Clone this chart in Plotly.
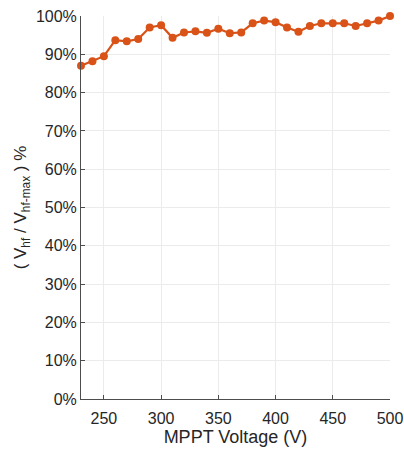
import plotly.graph_objects as go

# MPPT voltage sweep (V) and normalised high-frequency voltage (%)
mppt_voltage = [230, 240, 250, 260, 270, 280, 290, 300, 310, 320, 330, 340, 350, 360,
                370, 380, 390, 400, 410, 420, 430, 440, 450, 460, 470, 480, 490, 500]
vhf_ratio = [87.0, 88.2, 89.5, 93.7, 93.4, 94.0, 97.0, 97.6, 94.3, 95.7, 96.0, 95.6, 96.7, 95.5,
             95.7, 98.1, 98.8, 98.4, 97.0, 95.9, 97.4, 98.1, 98.1, 98.1, 97.4, 98.1, 98.8, 100.0]

x_ticks = [250, 300, 350, 400, 450, 500]
y_ticks = list(range(0, 101, 10))
y_tick_labels = [f"{v}%" for v in y_ticks]

line_color = "#D95319"
axis_color = "#4D4D4D"
grid_color = "#EBEBEB"
text_color = "#262626"
font_family = "Liberation Sans, Arial, sans-serif"

fig = go.Figure(
    go.Scatter(
        x=mppt_voltage,
        y=vhf_ratio,
        mode="lines+markers",
        line=dict(color=line_color, width=2.2),
        marker=dict(color=line_color, size=8, symbol="circle"),
        showlegend=False,
        cliponaxis=False,
    )
)

fig.update_layout(
    width=404,
    height=453,
    autosize=False,
    margin=dict(l=81, r=14, t=16, b=54, pad=0),
    paper_bgcolor="white",
    plot_bgcolor="white",
    font=dict(family=font_family, size=16, color=text_color),
)

fig.update_xaxes(
    range=[230, 500],
    tickvals=x_ticks,
    ticks="inside",
    ticklen=4,
    tickcolor=axis_color,
    showline=True,
    linecolor=axis_color,
    linewidth=1,
    showgrid=True,
    gridcolor=grid_color,
    zeroline=False,
    automargin=False,
    ticklabelstandoff=5,
    tickfont=dict(size=16, color=text_color),
    title=dict(text="MPPT Voltage (V)", font=dict(size=18, color=text_color), standoff=1),
)

fig.update_yaxes(
    range=[0, 100],
    tickvals=y_ticks,
    ticktext=y_tick_labels,
    ticks="inside",
    ticklen=4,
    tickcolor=axis_color,
    showline=True,
    linecolor=axis_color,
    linewidth=1,
    showgrid=True,
    gridcolor=grid_color,
    zeroline=False,
    automargin=False,
    tickfont=dict(size=16, color=text_color),
    title=dict(
        text="( V<sub>hf</sub> / V<sub>hf-max</sub> ) %",
        font=dict(size=17, color=text_color),
        standoff=4,
    ),
)

fig.write_html("out.html")
